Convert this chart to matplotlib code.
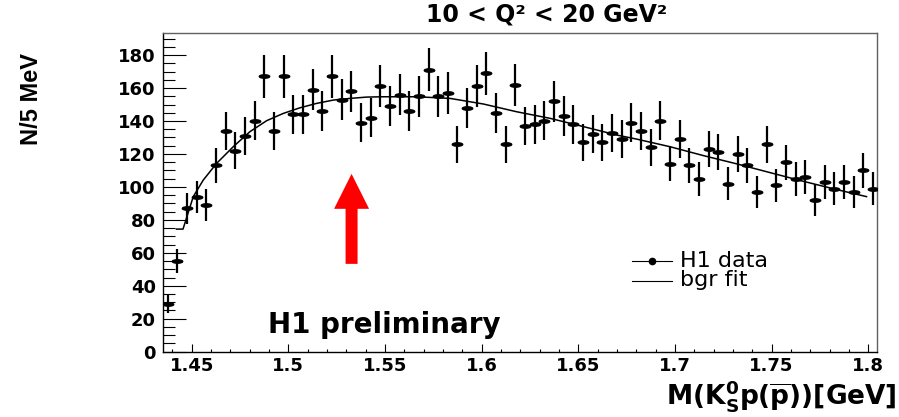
import numpy as np
import matplotlib
matplotlib.use("Agg")
import matplotlib.pyplot as plt
from matplotlib.path import Path
from matplotlib.patches import FancyArrow
from matplotlib.lines import Line2D
from matplotlib.ticker import MultipleLocator

plt.rcParams['font.family'] = ['DejaVu Sans']
plt.rcParams['mathtext.fontset'] = 'dejavusans'
plt.rcParams['mathtext.default'] = 'bf'

# Invariant-mass bins (5 MeV wide), bin centres in GeV
bin_low = 1.435
bin_width = 0.005
counts = [29, 55, 87, 94, 89, 113, 134, 122, 131, 140,
          167, 134, 167, 144, 144, 159, 146, 167, 153, 158,
          139, 142, 161, 149, 156, 146, 155, 171, 155, 157,
          126, 148, 161, 169, 145, 126, 162, 137, 138, 140,
          152, 143, 138, 127, 132, 127, 133, 129, 139, 134,
          124, 140, 114, 129, 113, 105, 123, 121, 102, 120,
          113, 97, 126, 101, 115, 105, 106, 92, 103, 99,
          103, 97, 110, 99]
mass = [round(bin_low + bin_width * (i + 0.5), 4) for i in range(len(counts))]
stat_err = np.sqrt(counts)  # Poisson errors on the bin contents

# Background fit curve, sampled along the mass axis
fit_mass = [1.4421, 1.4455, 1.4508, 1.4560, 1.4629, 1.4715, 1.4801, 1.4888,
            1.4974, 1.5060, 1.5147, 1.5233, 1.5319, 1.5405, 1.5492, 1.5664,
            1.5837, 1.6009, 1.6181, 1.6354, 1.6526, 1.6698, 1.6802, 1.6974,
            1.7147, 1.7319, 1.7491, 1.7664, 1.7836, 1.7991]
fit_vals = [74.4, 74.4, 94.1, 104.2, 114.3, 124.4, 133.5, 140.2,
            144.6, 148.0, 150.7, 152.7, 153.7, 154.5, 154.7, 154.7,
            153.7, 150.3, 145.6, 141.6, 136.6, 131.5, 129.0, 124.4,
            119.0, 114.0, 108.7, 103.4, 98.4, 94.1]

x_ticks = [1.45, 1.50, 1.55, 1.60, 1.65, 1.70, 1.75, 1.80]
x_tick_labels = ["1.45", "1.5", "1.55", "1.6", "1.65", "1.7", "1.75", "1.8"]
y_ticks = [0, 20, 40, 60, 80, 100, 120, 140, 160, 180]

# Arrow marking the expected signal position
arrow_mass = 1.5327
arrow_tail = 53.3
arrow_tip = 107.9

fig = plt.figure(figsize=(8.99, 4.17), dpi=100)
ax = fig.add_axes([0.181, 0.1566, 0.7949, 0.7643])

# flattened elliptical marker
t = np.linspace(0, 2 * np.pi, 41)
ellipse = Path(np.column_stack([np.cos(t), 0.33 * np.sin(t)]), closed=True)

ax.errorbar(mass, counts, yerr=stat_err, fmt='none', ecolor='black',
            elinewidth=1.6, capsize=0, zorder=3)
ax.plot(mass, counts, linestyle='none', marker=ellipse, markersize=7.5,
        color='black', zorder=4)
ax.plot(fit_mass, fit_vals, color='black', lw=1.1, zorder=2)

ax.add_patch(FancyArrow(arrow_mass, arrow_tail, 0, arrow_tip - arrow_tail,
                        width=0.0062, head_width=0.0181, head_length=21.2,
                        length_includes_head=True, color='#ff0000', lw=0,
                        zorder=5))

ax.set_xlim(1.435, 1.8047)
ax.set_ylim(0, 193.4)
ax.set_xticks(x_ticks)
ax.set_xticklabels(x_tick_labels)
ax.set_yticks(y_ticks)
ax.xaxis.set_minor_locator(MultipleLocator(0.01))
ax.yaxis.set_minor_locator(MultipleLocator(5))
ax.tick_params(axis='x', which='major', direction='in', length=5.5,
               width=0.8, pad=3.5, labelsize=13)
ax.tick_params(axis='x', which='minor', direction='in', length=2.4, width=0.8)
ax.tick_params(axis='y', which='major', direction='in', length=16.5,
               width=0.8, pad=5, labelsize=13)
ax.tick_params(axis='y', which='minor', direction='in', length=8.6, width=0.8)
for lbl in ax.get_xticklabels() + ax.get_yticklabels():
    lbl.set_fontweight('bold')

for side in ('left', 'bottom'):
    ax.spines[side].set_color('black')
    ax.spines[side].set_linewidth(1.0)
for side in ('top', 'right'):
    ax.spines[side].set_color('#606060')
    ax.spines[side].set_linewidth(1.0)

ax.text(1.4895, 11.3, 'H1 preliminary', fontsize=20, fontweight='bold',
        va='baseline', ha='left')

# legend entries
ax.add_line(Line2D([0.6563, 0.7123], [0.2855, 0.2855], transform=ax.transAxes,
                   color='black', lw=0.8))
ax.add_line(Line2D([0.6843], [0.2855], transform=ax.transAxes, color='black',
                   marker='o', markersize=4.5, linestyle='none'))
ax.add_line(Line2D([0.6563, 0.7123], [0.2228, 0.2228], transform=ax.transAxes,
                   color='black', lw=0.8))
ax.text(0.7239, 0.2648, 'H1 data', transform=ax.transAxes, fontsize=16,
        va='baseline', ha='left')
ax.text(0.7239, 0.2062, 'bgr fit', transform=ax.transAxes, fontsize=16,
        va='baseline', ha='left')

fig.text(0.6085, 0.948, '10 < Q² < 20 GeV²', fontsize=17, fontweight='bold',
         ha='center', va='baseline')
fig.text(0.9978, 0.0288, r'M(K$^{0}_{S}$p($\overline{p}$))[GeV]', fontsize=19,
         fontweight='bold', ha='right', va='baseline')
fig.text(0.0345, 0.763, 'N/5 MeV', fontsize=17, fontweight='bold',
         family=['Liberation Sans', 'DejaVu Sans'],
         rotation=90, ha='center', va='center')

fig.savefig('out.png', dpi=100)
